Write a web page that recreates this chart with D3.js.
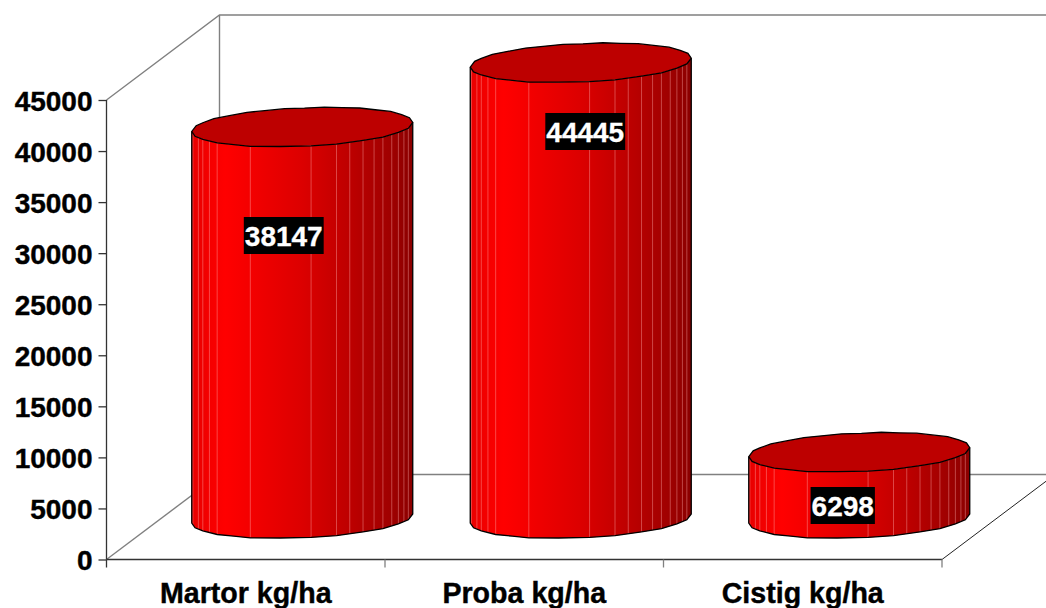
<!DOCTYPE html>
<html>
<head>
<meta charset="utf-8">
<script src="https://cdn.jsdelivr.net/npm/d3@7"></script>
<style>
  html, body { margin: 0; padding: 0; background: #fff; }
  svg { display: block; }
  text { font-family: "Liberation Sans", Arial, sans-serif; font-weight: bold; }
</style>
</head>
<body>
<div id="container"></div>
<script>
// values
let categories = ["Martor kg/ha", "Proba kg/ha", "Cistig kg/ha"];
let values = [38147, 44445, 6298];
let yTicks = [0, 5000, 10000, 15000, 20000, 25000, 30000, 35000, 40000, 45000];

// hand placed data labels in the original, offset from the category centre
let labelDx = [38, 61, 40];
let labelDy = [-324, -428, -54];

// where the cylinder facets fall, as a share of its width
let facets = [0.005, 0.03, 0.05, 0.08, 0.115, 0.265, 0.54, 0.655, 0.715, 0.775, 0.825, 0.865, 0.905, 0.935, 0.96, 0.98];
// rim vertices, front and back, with how far each is off the true ellipse in px
let frontRim = [0, 0.015, 0.05, 0.115, 0.19, 0.265, 0.4, 0.54, 0.655, 0.775, 0.865, 0.935, 0.98, 1];
let frontWobble = [0, 0.3, 0, 0.4, 0, 0.5, 0, 0.3, 0.5, 0, 0.5, 0, 0.3, 0];
let backRim = [1, 0.985, 0.95, 0.9, 0.84, 0.76, 0.68, 0.6, 0.51, 0.42, 0.33, 0.25, 0.17, 0.1, 0.05, 0.02, 0];
let backWobble = [0, 0.3, 0, 0.5, 0, 0.4, 0, 0.4, -0.2, 0.3, 0, 0.4, 0, 0.5, 0, 0.3, 0];

let w = 1046;
let h = 608;
let left = 106.5;
let right = 942;
let bottom = 559.5;
let top45 = 100;
let depthX = 113;
let depthY = 85;
let barW = 221;
let ry = 19;
let tilt = -4.5;

let viz = d3.select("#container")
  .append("svg")
    .attr("width", w)
    .attr("height", h)
;

let xScale = d3.scaleBand().domain(categories).range([left, right]);
let yScale = d3.scaleLinear().domain([0, 45000]).range([bottom, top45]);

// side shading, same for every cylinder
let grad = viz.append("defs").append("linearGradient").attr("id", "side");
let stops = [[0, "#e80000"], [0.15, "#ff0000"], [0.5, "#dc0000"], [0.75, "#b80000"], [0.92, "#9c0000"], [1, "#8a0000"]];
grad.selectAll("stop").data(stops).enter().append("stop")
  .attr("offset", d => d[0])
  .attr("stop-color", d => d[1]);

// walls and floor
let gray = "#808080";
let walls = viz.append("g").attr("fill", "none").attr("stroke", gray).attr("stroke-width", 1.4);
walls.append("path").attr("d", d3.line()([[left, top45], [left + depthX, top45 - depthY], [w, top45 - depthY]]));
walls.append("path").attr("d", d3.line()([[left + depthX, top45 - depthY], [left + depthX, bottom - depthY], [w, bottom - depthY]]));
walls.append("path").attr("d", d3.line()([[left, bottom], [left + depthX, bottom - depthY]]));
walls.append("path").attr("d", d3.line()([[right, bottom], [right + depthX, bottom - depthY]])).attr("stroke", "#222").attr("stroke-width", 1);

// one point on the rim, f is the share of the width, side is +1 front or -1 back
function rimPoint(cx, cy, f, side, off) {
  let u = 2 * f - 1;
  return [cx + u * barW / 2, cy + side * (ry * Math.sqrt(1 - u * u) + (off || 0)) + tilt * u];
}

let bars = viz.selectAll(".bar").data(categories).enter().append("g").attr("class", "bar");

bars.each(function(cat, i) {
  let g = d3.select(this);
  let cx = xScale(cat) + xScale.bandwidth() / 2 + 56.5;
  let baseY = bottom - 41;
  let topY = baseY - (yScale(0) - yScale(values[i])) - 2;

  let topFront = frontRim.map((f, j) => rimPoint(cx, topY, f, 1, frontWobble[j]));
  let baseFront = frontRim.map((f, j) => rimPoint(cx, baseY, f, 1, frontWobble[j]));
  let topBack = backRim.map((f, j) => rimPoint(cx, topY, f, -1, backWobble[j]));

  // side wall
  g.append("path")
    .attr("d", d3.line()(topFront.concat(baseFront.slice().reverse())) + "Z")
    .attr("fill", "url(#side)");

  // facet edges
  g.selectAll(".facet").data(facets).enter().append("line")
    .attr("class", "facet")
    .attr("x1", f => rimPoint(cx, topY, f, 1)[0])
    .attr("x2", f => rimPoint(cx, baseY, f, 1)[0])
    .attr("y1", f => rimPoint(cx, topY, f, 1)[1])
    .attr("y2", f => rimPoint(cx, baseY, f, 1)[1])
    .attr("stroke", "#ffb0b0")
    .attr("stroke-opacity", 0.4)
    .attr("stroke-width", 1);

  // outline of the side wall
  g.append("path")
    .attr("d", d3.line()([topFront[0]].concat(baseFront, [topFront[topFront.length - 1]])))
    .attr("fill", "none")
    .attr("stroke", "#000")
    .attr("stroke-width", 1.3);

  // lid
  g.append("path")
    .attr("d", d3.line()(topFront.concat(topBack)) + "Z")
    .attr("fill", "#bd0000")
    .attr("stroke", "#000")
    .attr("stroke-width", 1.3);
});

// y axis
let yAxis = d3.axisLeft(yScale).tickValues(yTicks).tickFormat(d3.format("d")).tickSize(8).tickPadding(6);
let yAxisGroup = viz.append("g")
    .attr("class", "yaxisgroup")
    .attr("transform", "translate(" + left + ",0)")
    .call(yAxis);
yAxisGroup.selectAll("path, line").attr("stroke", "#333").attr("stroke-width", 1.3);
yAxisGroup.select(".domain").attr("d", "M0," + top45 + "V" + bottom);
yAxisGroup.selectAll("text")
  .attr("font-size", 28).attr("fill", "#000").attr("stroke", "#000").attr("stroke-width", 0.4)
  .attr("dy", "0.36em");

// x axis, labels from the band centres and ticks on the band edges
let xAxis = d3.axisBottom(xScale).tickSize(0).tickPadding(23);
let xAxisGroup = viz.append("g")
    .attr("class", "xaxisgroup")
    .attr("transform", "translate(0," + bottom + ")")
    .call(xAxis);
xAxisGroup.select(".domain").attr("d", "M" + left + ",0H" + right).attr("stroke", "#333").attr("stroke-width", 1.3);
xAxisGroup.selectAll("text")
  .attr("font-size", 28.6).attr("fill", "#000").attr("stroke", "#000").attr("stroke-width", 0.4);
let edges = categories.map(c => xScale(c)).concat([right]);
xAxisGroup.selectAll(".edge").data(edges).enter().append("line")
  .attr("class", "edge")
  .attr("x1", d => d).attr("x2", d => d)
  .attr("y1", 0).attr("y2", 8)
  .attr("stroke", (d, i) => i == 0 ? "#333" : gray)
  .attr("stroke-width", 1.3);

// data labels
let labels = viz.selectAll(".vlabel").data(values).enter().append("g")
  .attr("class", "vlabel")
  .attr("transform", (d, i) => "translate(" + (xScale(categories[i]) + xScale.bandwidth() / 2 + labelDx[i]) + "," + (bottom + labelDy[i]) + ")");
labels.append("text")
  .attr("text-anchor", "middle")
  .attr("dy", "0.36em")
  .attr("font-size", 28)
  .attr("fill", "#fff")
  .attr("stroke", "#fff")
  .attr("stroke-width", 0.3)
  .text(d => d);
labels.insert("rect", "text")
  .attr("x", function() { return -this.parentNode.querySelector("text").getComputedTextLength() / 2 - 1; })
  .attr("width", function() { return this.parentNode.querySelector("text").getComputedTextLength() + 2; })
  .attr("y", -18.5)
  .attr("height", 37)
  .attr("fill", "#000");
</script>
</body>
</html>
